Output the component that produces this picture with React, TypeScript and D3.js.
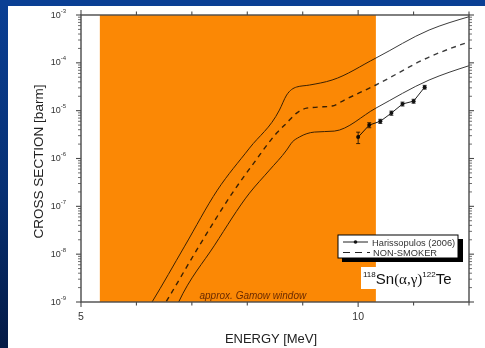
import React from "react";
import * as d3 from "d3";

// Hauser-Feshbach (NON-SMOKER) prediction: central curve and the upper / lower uncertainty band
const upperE = [6.2, 6.28, 6.87, 7.46, 8.04, 8.58, 8.71, 8.89, 9.12, 9.53, 10.32, 11.28, 12.0];
const upperSigma = [7.0e-10, 9.9e-10, 1.47e-8, 2.18e-7, 1.65e-6, 1.03e-5, 2.12e-5, 3.12e-5, 3.43e-5, 4.37e-5, 1.26e-4, 4.85e-4, 9.2e-4];

const smokerE = [6.45, 6.53, 7.14, 7.73, 8.13, 8.53, 8.71, 8.89, 9.07, 9.3, 9.53, 9.75, 10.32, 11.28, 12.0];
const smokerSigma = [7.0e-10, 9.9e-10, 1.54e-8, 1.89e-7, 8.41e-7, 3.4e-6, 5.5e-6, 8.9e-6, 1.13e-5, 1.19e-5, 1.25e-5, 1.67e-5, 3.44e-5, 1.32e-4, 2.75e-4];

const lowerE = [6.7, 6.76, 7.41, 8.04, 8.4, 8.71, 8.81, 8.94, 9.21, 9.57, 10.32, 11.28, 12.0];
const lowerSigma = [7.0e-10, 9.9e-10, 1.54e-8, 1.89e-7, 5.71e-7, 1.5e-6, 2.2e-6, 2.81e-6, 3.57e-6, 3.74e-6, 1.13e-5, 4.37e-5, 8.7e-5];

// Measured cross sections (Harissopulos 2006) with errors
const expE = [10.0, 10.2, 10.4, 10.6, 10.8, 11.0, 11.2];
const expSigma = [2.8e-6, 5.0e-6, 6.0e-6, 8.9e-6, 1.38e-5, 1.58e-5, 3.1e-5];
const expErr = [0.75e-6, 0.6e-6, 0.6e-6, 0.9e-6, 1.3e-6, 1.5e-6, 2.8e-6];

// Axis ranges and ticks
const energyDomain = [5, 12];
const sigmaDomain = [1e-9, 1e-3];
const energyTicks = [5, 6, 7, 8, 9, 10, 11, 12];
const energyLabels = [5, 10];
const decadeExponents = [-9, -8, -7, -6, -5, -4, -3];

// Gamow window
const gamowWindow = [5.34, 10.32];

const W = 485;
const H = 348;
const plot = { left: 81, right: 469, top: 15, bottom: 302 };

export default function App() {
  const x = d3.scaleLinear().domain(energyDomain).range([plot.left, plot.right]);
  const y = d3.scaleLog().domain(sigmaDomain).range([plot.bottom, plot.top]);

  const line = d3
    .line<[number, number]>()
    .x((d) => x(d[0]))
    .y((d) => y(d[1]))
    .curve(d3.curveMonotoneX);
  const zip = (a: number[], b: number[]) => a.map((v, i) => [v, b[i]] as [number, number]);

  const minorTicks: number[] = [];
  decadeExponents.slice(0, -1).forEach((e) => {
    for (let m = 2; m <= 9; m++) minorTicks.push(m * Math.pow(10, e));
  });

  const axisColor = "#4a4a4a";
  const curveColor = "#3c3c3c";
  const font = "Liberation Sans, Arial, sans-serif";

  const dataLine = d3
    .line<[number, number]>()
    .x((d) => x(d[0]))
    .y((d) => y(d[1]));

  return (
    <svg
      width={W}
      height={H}
      style={{ position: "fixed", left: 0, top: 0, display: "block" }}
      fontFamily={font}
    >
      <defs>
        <linearGradient id="frameBlue" x1="0" y1="0" x2="0" y2="1">
          <stop offset="0" stopColor="#0a3f94" />
          <stop offset="0.55" stopColor="#073073" />
          <stop offset="1" stopColor="#041a45" />
        </linearGradient>
        <clipPath id="plotClip">
          <rect x={plot.left} y={plot.top} width={plot.right - plot.left} height={plot.bottom - plot.top} />
        </clipPath>
      </defs>

      {/* slide frame */}
      <rect x={0} y={0} width={W} height={H} fill="url(#frameBlue)" />
      <rect x={0} y={0} width={W} height={6} fill="#0a3f94" />
      <rect x={8} y={6} width={W - 8} height={H - 6} fill="#ffffff" />

      {/* curves */}
      <g clipPath="url(#plotClip)" fill="none">
        <path d={line(zip(upperE, upperSigma)) || ""} stroke={curveColor} strokeWidth={1} />
        <path d={line(zip(lowerE, lowerSigma)) || ""} stroke={curveColor} strokeWidth={1} />
        <path
          d={line(zip(smokerE, smokerSigma)) || ""}
          stroke={curveColor}
          strokeWidth={1.4}
          strokeDasharray="5,4.5"
        />
        <path d={dataLine(zip(expE, expSigma)) || ""} stroke="#222" strokeWidth={1} />
        {expE.map((e, i) => {
          const cx = x(e);
          const y1 = y(expSigma[i] - expErr[i]);
          const y2 = y(expSigma[i] + expErr[i]);
          return (
            <g key={i}>
              <line x1={cx} x2={cx} y1={y1} y2={y2} stroke="#222" strokeWidth={0.9} />
              <line x1={cx - 2} x2={cx + 2} y1={y1} y2={y1} stroke="#222" strokeWidth={0.9} />
              <line x1={cx - 2} x2={cx + 2} y1={y2} y2={y2} stroke="#222" strokeWidth={0.9} />
              <circle cx={cx} cy={y(expSigma[i])} r={2} fill="#111" />
            </g>
          );
        })}
      </g>

      {/* Gamow window shading, multiplied over the curves */}
      <rect
        x={x(gamowWindow[0])}
        y={plot.top}
        width={x(gamowWindow[1]) - x(gamowWindow[0])}
        height={plot.bottom - plot.top}
        fill="#fb8805"
        style={{ mixBlendMode: "multiply" }}
      />
      <text
        x={x(5.37) + 98}
        y={plot.bottom - 3}
        fontSize={10}
        fontStyle="italic"
        fill="#6a2a00"
      >
        approx. Gamow window
      </text>

      {/* frame */}
      <rect
        x={plot.left}
        y={plot.top}
        width={plot.right - plot.left}
        height={plot.bottom - plot.top}
        fill="none"
        stroke={axisColor}
        strokeWidth={1.4}
      />

      {/* x ticks */}
      {energyTicks.map((t) => {
        const major = energyLabels.includes(t);
        const len = major ? 5 : 3.5;
        return (
          <g key={t} stroke={axisColor} strokeWidth={1.1}>
            <line x1={x(t)} x2={x(t)} y1={plot.bottom} y2={plot.bottom + len} />
            <line x1={x(t)} x2={x(t)} y1={plot.top} y2={plot.top - len} />
          </g>
        );
      })}
      {energyLabels.map((t) => (
        <text key={t} x={x(t)} y={320} fontSize={10.5} textAnchor="middle" fill="#333">
          {t}
        </text>
      ))}

      {/* y ticks */}
      {decadeExponents.map((e) => {
        const yy = y(Math.pow(10, e));
        return (
          <g key={e}>
            <line x1={plot.left - 5} x2={plot.left} y1={yy} y2={yy} stroke={axisColor} strokeWidth={1.1} />
            <line x1={plot.right} x2={plot.right + 5} y1={yy} y2={yy} stroke={axisColor} strokeWidth={1.1} />
            <text x={66} y={yy + 2.5} textAnchor="end" fill="#333">
              <tspan fontSize={9}>10</tspan>
              <tspan fontSize={6} dy={-5}>
                {e}
              </tspan>
            </text>
          </g>
        );
      })}
      {minorTicks.map((v, i) => {
        const yy = y(v);
        return (
          <g key={i} stroke={axisColor} strokeWidth={0.8}>
            <line x1={plot.left - 3} x2={plot.left} y1={yy} y2={yy} />
            <line x1={plot.right} x2={plot.right + 3} y1={yy} y2={yy} />
          </g>
        );
      })}

      {/* axis titles */}
      <text
        transform={`translate(43,${(plot.top + plot.bottom) / 2 + 3}) rotate(-90)`}
        textAnchor="middle"
        fontSize={13.5}
        fill="#222"
      >
        CROSS SECTION [barm]
      </text>
      <text x={271} y={343} textAnchor="middle" fontSize={13} fill="#222">
        ENERGY [MeV]
      </text>

      {/* legend */}
      <rect x={342} y={239} width={121} height={23} fill="#000" />
      <rect x={338} y={235} width={120} height={23} fill="#fff" stroke="#000" strokeWidth={1} />
      <line x1={343} x2={368} y1={242} y2={242} stroke="#222" strokeWidth={1} />
      <circle cx={355.5} cy={242} r={1.8} fill="#111" />
      <text x={372} y={245.5} fontSize={9.3} fill="#333">
        Harissopulos (2006)
      </text>
      <line x1={343} x2={370} y1={252.5} y2={252.5} stroke="#222" strokeWidth={1.2} strokeDasharray="7,5" />
      <text x={373} y={256} fontSize={9.3} fill="#333">
        NON-SMOKER
      </text>

      {/* reaction label */}
      <rect x={361} y={267} width={103} height={22} fill="#fff" />
      <text x={363} y={284} fill="#111">
        <tspan fontSize={8} dy={-7}>118</tspan>
        <tspan fontSize={15} dy={7}>Sn</tspan>
        <tspan fontSize={15} fontFamily="Liberation Serif, Times New Roman, serif">(α,γ)</tspan>
        <tspan fontSize={8} dy={-7}>122</tspan>
        <tspan fontSize={15} dy={7}>Te</tspan>
      </text>
    </svg>
  );
}
